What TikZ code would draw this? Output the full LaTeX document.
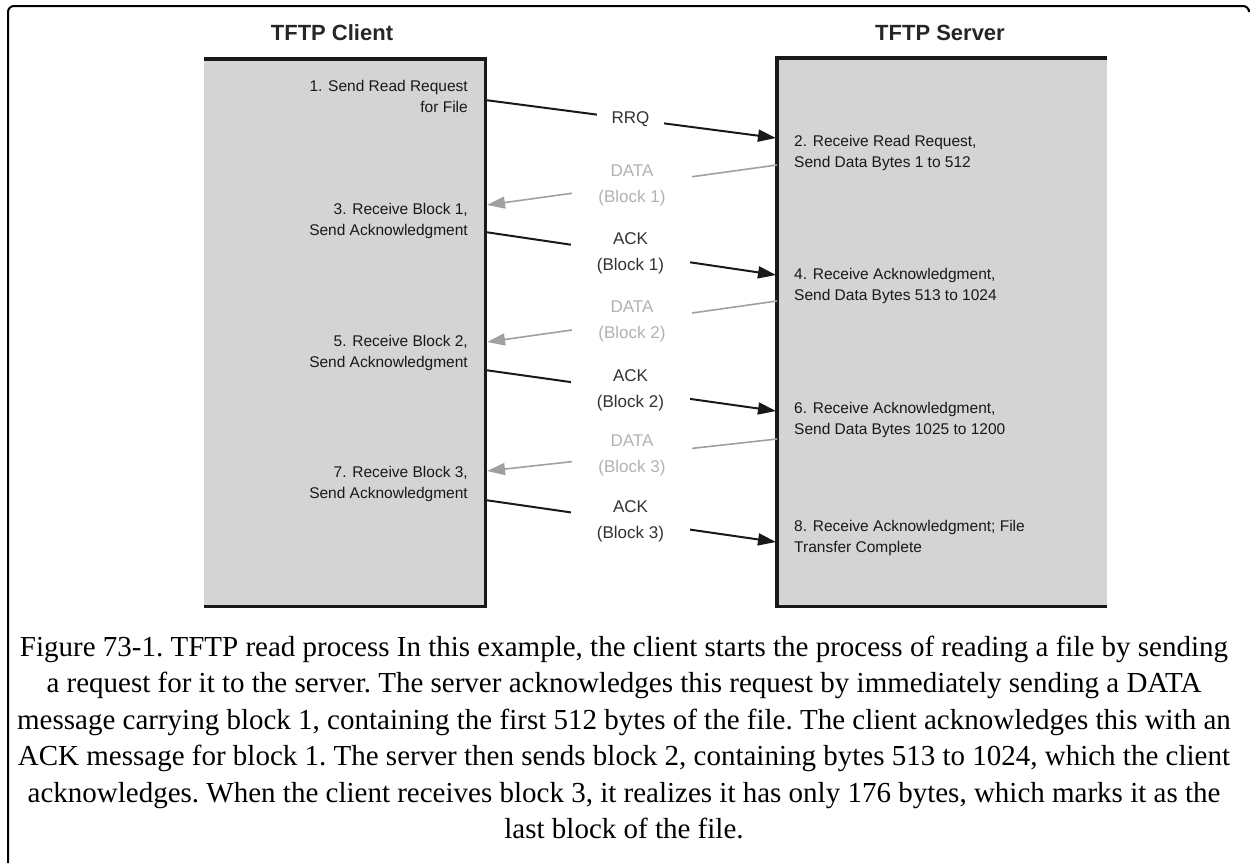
\documentclass[tikz,border=0pt]{standalone}
\usepackage{fontspec}
\setmainfont{Liberation Serif}
\setsansfont{Liberation Sans}
\usetikzlibrary{arrows.meta}

\definecolor{boxfill}{RGB}{212,212,212}
\definecolor{dataline}{RGB}{160,160,160}
\definecolor{datatext}{RGB}{178,178,178}
\definecolor{acktext}{RGB}{50,50,50}

\tikzset{
  hostbox/.style={fill=boxfill, draw=none, inner sep=0pt},
  hostedge/.style={line width=3.5pt, black!90},
  hosttitle/.style={font=\sffamily\bfseries\fontsize{22}{26}\selectfont, text=black!85},
  clientstep/.style={anchor=east, align=right, inner sep=0pt, text=black!90,
    font=\sffamily\fontsize{15.5}{21}\selectfont},
  serverstep/.style={anchor=west, align=left, inner sep=0pt, text=black!90,
    font=\sffamily\fontsize{15.5}{21}\selectfont},
  ackmsg/.style={line width=2pt, black!90, -{Triangle[length=18pt,width=12pt]}},
  datamsg/.style={line width=1.6pt, dataline, -{Triangle[length=18pt,width=12pt]}},
  msglabel/.style={fill=white, align=center, inner xsep=26pt, inner ysep=2pt,
    font=\sffamily\fontsize{17}{26}\selectfont}
}

\begin{document}
\begin{tikzpicture}[x=1pt, y=-1pt]
  \useasboundingbox (0,0) rectangle (1250,865);

  % outer frame, open at right and bottom
  \draw[line width=2pt] (8,863) [rounded corners=6pt] |- (1249,6) [sharp corners] -- (1249,9);

  % the two hosts
  \node[hostbox, minimum width=281pt, minimum height=547pt, anchor=north west] (client) at (204,59) {};
  \node[hostbox, minimum width=330pt, minimum height=548pt, anchor=north west] (server) at (777,58) {};
  \draw[hostedge] (client.north west) -| (client.south east) -- (client.south west);
  \draw[hostedge] (server.north east) -| (server.south west) -- (server.south east);

  \node[hosttitle] (clienttitle) at (332,33) {TFTP Client};
  \node[hosttitle] (servertitle) at (940,33) {TFTP Server};

  % client side steps
  \node[clientstep] (step1) at (468,96.5) {1. Send Read Request\\for File};
  \node[clientstep] (step3) at (468,220.5) {3. Receive Block 1,\\Send Acknowledgment};
  \node[clientstep] (step5) at (468,353) {5. Receive Block 2,\\Send Acknowledgment};
  \node[clientstep] (step7) at (468,484) {7. Receive Block 3,\\Send Acknowledgment};

  % server side steps
  \node[serverstep] (step2) at (794,152.5) {2. Receive Read Request,\\Send Data Bytes 1 to 512};
  \node[serverstep] (step4) at (794,286) {4. Receive Acknowledgment,\\Send Data Bytes 513 to 1024};
  \node[serverstep] (step6) at (794,419.5) {6. Receive Acknowledgment,\\Send Data Bytes 1025 to 1200};
  \node[serverstep] (step8) at (794,538) {8. Receive Acknowledgment; File\\Transfer Complete};

  % ends of the messages on the box edges
  \coordinate (rrq-out) at (485,100);   \coordinate (rrq-in) at (776,138);
  \coordinate (data1-out) at (777,165); \coordinate (data1-in) at (487,205);
  \coordinate (ack1-out) at (485,232);  \coordinate (ack1-in) at (776,275);
  \coordinate (data2-out) at (777,301); \coordinate (data2-in) at (487,342);
  \coordinate (ack2-out) at (485,370);  \coordinate (ack2-in) at (776,411);
  \coordinate (data3-out) at (777,439); \coordinate (data3-in) at (487,471);
  \coordinate (ack3-out) at (485,500);  \coordinate (ack3-in) at (776,542);

  % messages
  \draw[ackmsg] (rrq-out) -- node[msglabel, inner xsep=15pt, text=acktext] (rrq) {RRQ} (rrq-in);
  \draw[datamsg] (data1-out) -- node[msglabel, text=datatext] (data1) {DATA\\(Block 1)} (data1-in);
  \draw[ackmsg] (ack1-out) -- node[msglabel, text=acktext] (ack1) {ACK\\(Block 1)} (ack1-in);
  \draw[datamsg] (data2-out) -- node[msglabel, text=datatext] (data2) {DATA\\(Block 2)} (data2-in);
  \draw[ackmsg] (ack2-out) -- node[msglabel, text=acktext] (ack2) {ACK\\(Block 2)} (ack2-in);
  \draw[datamsg] (data3-out) -- node[msglabel, text=datatext] (data3) {DATA\\(Block 3)} (data3-in);
  \draw[ackmsg] (ack3-out) -- node[msglabel, text=acktext] (ack3) {ACK\\(Block 3)} (ack3-in);

  \node[align=center, font=\frenchspacing\fontsize{29}{36.5}\selectfont] (caption) at (624,737.5)
    {Figure 73-1. TFTP read process In this example, the client starts the process of reading a file by sending\\
     a request for it to the server. The server acknowledges this request by immediately sending a DATA\\
     message carrying block 1, containing the first 512 bytes of the file. The client acknowledges this with an\\
     ACK message for block 1. The server then sends block 2, containing bytes 513 to 1024, which the client\\
     acknowledges. When the client receives block 3, it realizes it has only 176 bytes, which marks it as the\\
     last block of the file.};
\end{tikzpicture}
\end{document}
